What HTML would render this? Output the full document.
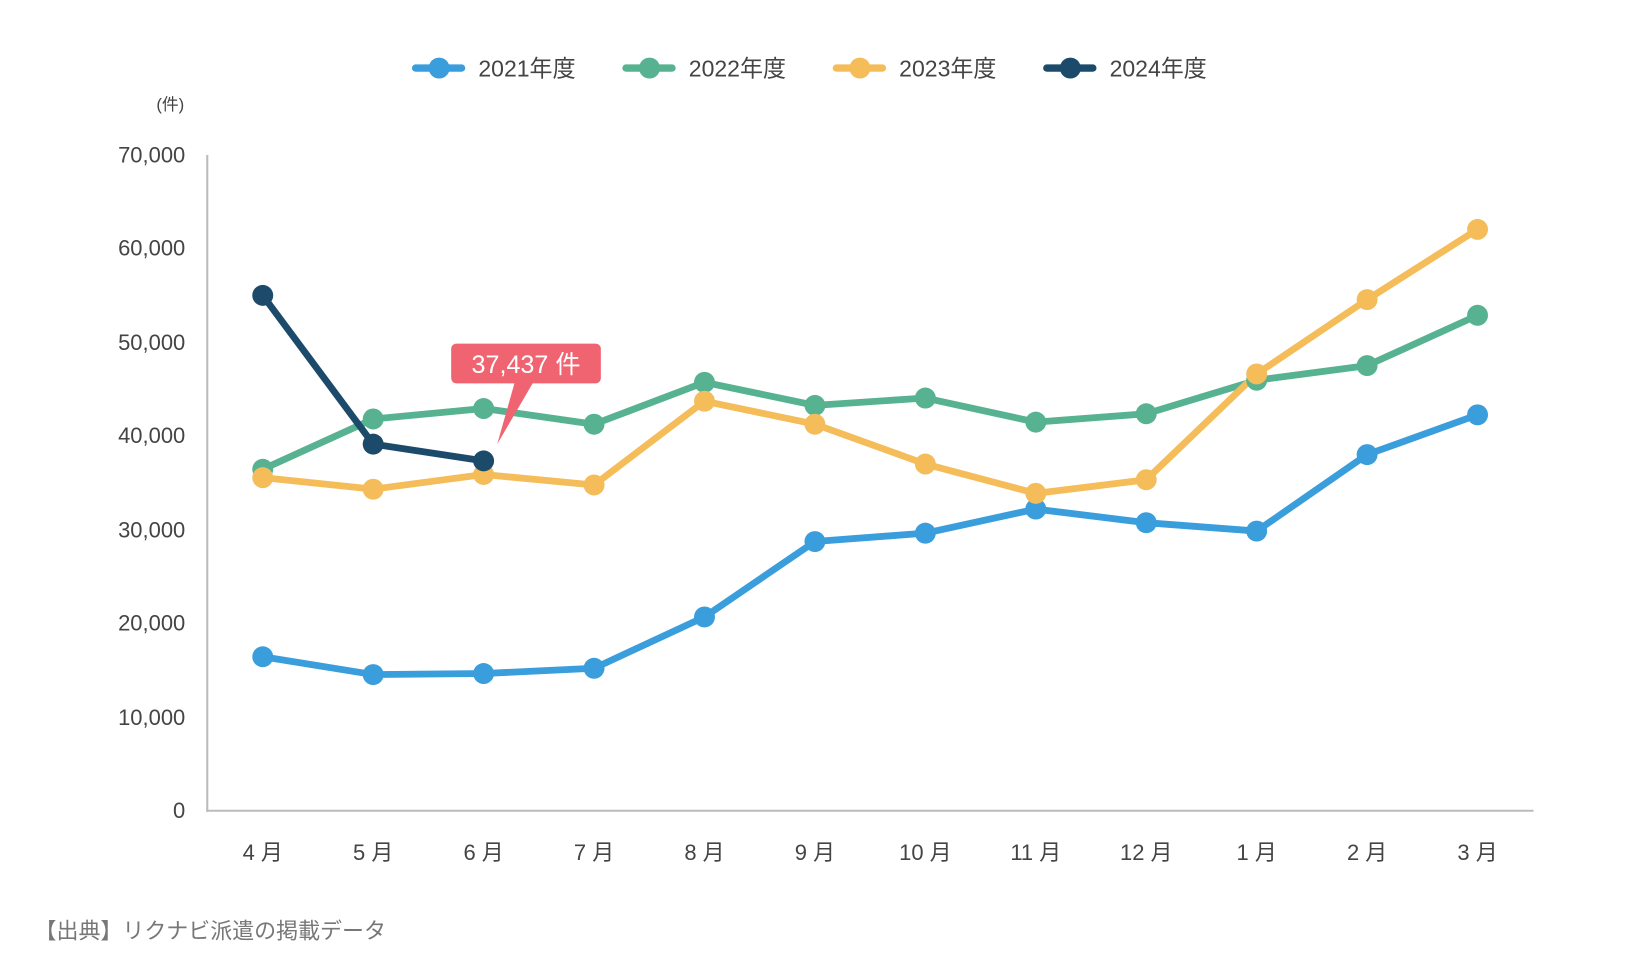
<!DOCTYPE html>
<html><head><meta charset="utf-8"><style>
html,body{margin:0;padding:0;background:#fff;}
svg{display:block;}
text{font-family:"Liberation Sans","Noto Sans CJK JP",sans-serif;}
</style></head><body>
<svg width="1640" height="960" viewBox="0 0 1566.7 916.5" preserveAspectRatio="none" xmlns="http://www.w3.org/2000/svg">
<!-- legend -->
<g stroke-linecap="round" stroke-width="7">
<line x1="397" y1="65" x2="441" y2="65" stroke="#3a9ddc"/><circle cx="419.5" cy="65" r="10" fill="#3a9ddc"/>
<line x1="598" y1="65" x2="642" y2="65" stroke="#56b290"/><circle cx="620.5" cy="65" r="10" fill="#56b290"/>
<line x1="799" y1="65" x2="843" y2="65" stroke="#f5bd5a"/><circle cx="821.5" cy="65" r="10" fill="#f5bd5a"/>
<line x1="1000" y1="65" x2="1044" y2="65" stroke="#1b4a6b"/><circle cx="1022.5" cy="65" r="10" fill="#1b4a6b"/>
</g>
<g font-size="22" fill="#444">
<text x="457" y="73">2021年度</text>
<text x="658" y="73">2022年度</text>
<text x="859" y="73">2023年度</text>
<text x="1060" y="73">2024年度</text>
</g>
<text x="176" y="105" font-size="16" fill="#444" text-anchor="end">(件)</text>
<!-- y labels -->
<g font-size="21" fill="#444" text-anchor="end">
<text x="177" y="155">70,000</text>
<text x="177" y="244">60,000</text>
<text x="177" y="334">50,000</text>
<text x="177" y="423">40,000</text>
<text x="177" y="513">30,000</text>
<text x="177" y="602">20,000</text>
<text x="177" y="692">10,000</text>
<text x="177" y="781">0</text>
</g>
<line x1="198" y1="148" x2="198" y2="775" stroke="#bbb" stroke-width="2"/>
<line x1="197" y1="774" x2="1465" y2="774" stroke="#bbb" stroke-width="2"/>
<g font-size="21" fill="#444" text-anchor="middle">
<text x="251" y="821">4 月</text><text x="356.5" y="821">5 月</text><text x="462" y="821">6 月</text><text x="567.5" y="821">7 月</text>
<text x="673" y="821">8 月</text><text x="778.5" y="821">9 月</text><text x="884" y="821">10 月</text><text x="989.5" y="821">11 月</text>
<text x="1095" y="821">12 月</text><text x="1200.5" y="821">1 月</text><text x="1306" y="821">2 月</text><text x="1411.5" y="821">3 月</text>
</g>
<text x="33" y="896" font-size="21" fill="#777">【出典】リクナビ派遣の掲載データ</text>
<!-- series -->
<g fill="none" stroke-width="6.5" stroke-linejoin="round">
<polyline stroke="#3a9ddc" points="251,627 356.5,644 462,643 567.5,638 673,589 778.5,517 884,509 989.5,486 1095,499 1200.5,507 1306,434 1411.5,396"/>
<polyline stroke="#56b290" points="251,448 356.5,400 462,390 567.5,405 673,365 778.5,387 884,380 989.5,403 1095,395 1200.5,363 1306,349 1411.5,301"/>
<polyline stroke="#f5bd5a" points="251,456 356.5,467 462,453 567.5,463 673,383 778.5,405 884,443 989.5,471 1095,458 1200.5,357 1306,286 1411.5,219"/>
<polyline stroke="#1b4a6b" points="251,282 356.5,424 462,440"/>
</g>
<g fill="#3a9ddc"><circle cx="251" cy="627" r="10"/><circle cx="356.5" cy="644" r="10"/><circle cx="462" cy="643" r="10"/><circle cx="567.5" cy="638" r="10"/><circle cx="673" cy="589" r="10"/><circle cx="778.5" cy="517" r="10"/><circle cx="884" cy="509" r="10"/><circle cx="989.5" cy="486" r="10"/><circle cx="1095" cy="499" r="10"/><circle cx="1200.5" cy="507" r="10"/><circle cx="1306" cy="434" r="10"/><circle cx="1411.5" cy="396" r="10"/></g>
<g fill="#56b290"><circle cx="251" cy="448" r="10"/><circle cx="356.5" cy="400" r="10"/><circle cx="462" cy="390" r="10"/><circle cx="567.5" cy="405" r="10"/><circle cx="673" cy="365" r="10"/><circle cx="778.5" cy="387" r="10"/><circle cx="884" cy="380" r="10"/><circle cx="989.5" cy="403" r="10"/><circle cx="1095" cy="395" r="10"/><circle cx="1200.5" cy="363" r="10"/><circle cx="1306" cy="349" r="10"/><circle cx="1411.5" cy="301" r="10"/></g>
<g fill="#f5bd5a"><circle cx="251" cy="456" r="10"/><circle cx="356.5" cy="467" r="10"/><circle cx="462" cy="453" r="10"/><circle cx="567.5" cy="463" r="10"/><circle cx="673" cy="383" r="10"/><circle cx="778.5" cy="405" r="10"/><circle cx="884" cy="443" r="10"/><circle cx="989.5" cy="471" r="10"/><circle cx="1095" cy="458" r="10"/><circle cx="1200.5" cy="357" r="10"/><circle cx="1306" cy="286" r="10"/><circle cx="1411.5" cy="219" r="10"/></g>
<g fill="#1b4a6b"><circle cx="251" cy="282" r="10"/><circle cx="356.5" cy="424" r="10"/><circle cx="462" cy="440" r="10"/></g>
<!-- callout -->
<rect x="431" y="328" width="143" height="38" rx="5" fill="#ef6470"/>
<polygon points="492,364 510,364 475,424" fill="#ef6470"/>
<text x="502.5" y="356" font-size="24" fill="#fff" text-anchor="middle">37,437 件</text>
</svg>
</body></html>
